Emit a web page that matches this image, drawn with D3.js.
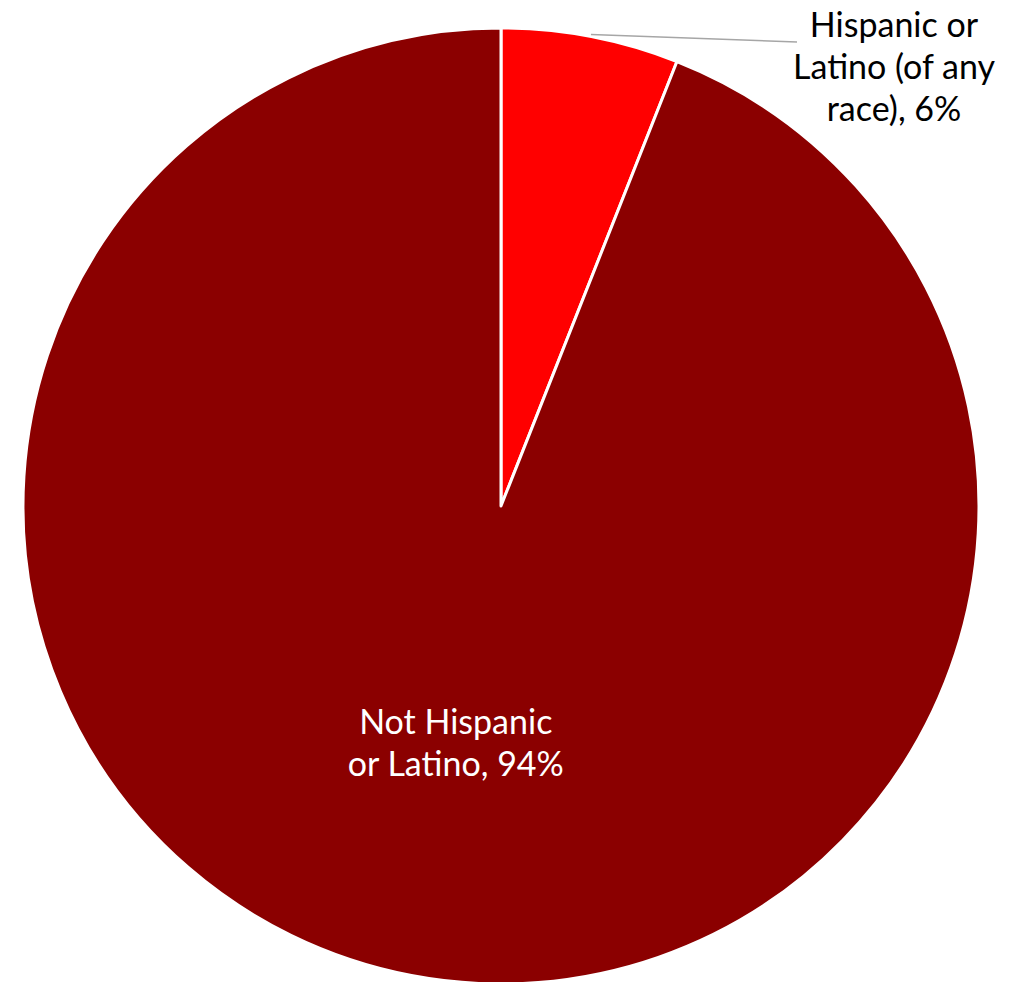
<!DOCTYPE html>
<html>
<head>
<meta charset="utf-8">
<script src="https://cdn.jsdelivr.net/npm/d3@7"></script>
<style>
  html, body { margin: 0; padding: 0; background: #ffffff; }
  svg { display: block; }
  text { font-family: Lato, "Open Sans", sans-serif; }
</style>
</head>
<body>
<svg id="chart" width="1014" height="982"></svg>
<script>
// Ethnicity breakdown (percent of population)
const categories = ["Hispanic or Latino (of any race)", "Not Hispanic or Latino"];
const values = [6, 94];
const colors = ["#ff0000", "#8b0000"];
const labelLines = [
  ["Hispanic or", "Latino (of any", "race), 6%"],
  ["Not Hispanic", "or Latino, 94%"]
];

const width = 1014, height = 982;
const cx = 501, cy = 506, radius = 478;
const fontSize = 34, lineHeight = 42;

const svg = d3.select("#chart");
const g = svg.append("g").attr("transform", `translate(${cx},${cy})`);

const pie = d3.pie().sort(null).value(d => d);
const arcs = pie(values);
const arc = d3.arc().innerRadius(0).outerRadius(radius);

g.selectAll("path.slice")
  .data(arcs)
  .join("path")
  .attr("class", "slice")
  .attr("d", arc)
  .attr("fill", (d, i) => colors[i])
  .attr("stroke", "#ffffff")
  .attr("stroke-width", 3)
  .attr("stroke-linejoin", "round");

// Small slice: label outside, joined by a leader line
const small = arcs[0];
const edgeArc = d3.arc().innerRadius(radius + 2).outerRadius(radius + 2);
const [sx, sy] = edgeArc.centroid(small);
const leaderEnd = [296, -464];
g.append("line")
  .attr("x1", sx).attr("y1", sy)
  .attr("x2", leaderEnd[0]).attr("y2", leaderEnd[1])
  .attr("stroke", "#a6a6a6")
  .attr("stroke-width", 1.5);

const outerLabel = g.append("text")
  .attr("text-anchor", "middle")
  .attr("font-size", fontSize)
  .attr("fill", "#000000");
outerLabel.selectAll("tspan")
  .data(labelLines[0])
  .join("tspan")
  .attr("x", leaderEnd[0] + 97)
  .attr("y", (d, i) => -469 + i * lineHeight)
  .text(d => d);

// Large slice: label inside, along its mid angle
const big = arcs[1];
const innerLabelArc = d3.arc().innerRadius(radius * 0.505).outerRadius(radius * 0.505);
const [bx, by] = innerLabelArc.centroid(big);
const innerLabel = g.append("text")
  .attr("text-anchor", "middle")
  .attr("font-size", fontSize)
  .attr("fill", "#ffffff");
innerLabel.selectAll("tspan")
  .data(labelLines[1])
  .join("tspan")
  .attr("x", bx)
  .attr("y", (d, i) => by - 9 + i * lineHeight)
  .text(d => d);
</script>
</body>
</html>
